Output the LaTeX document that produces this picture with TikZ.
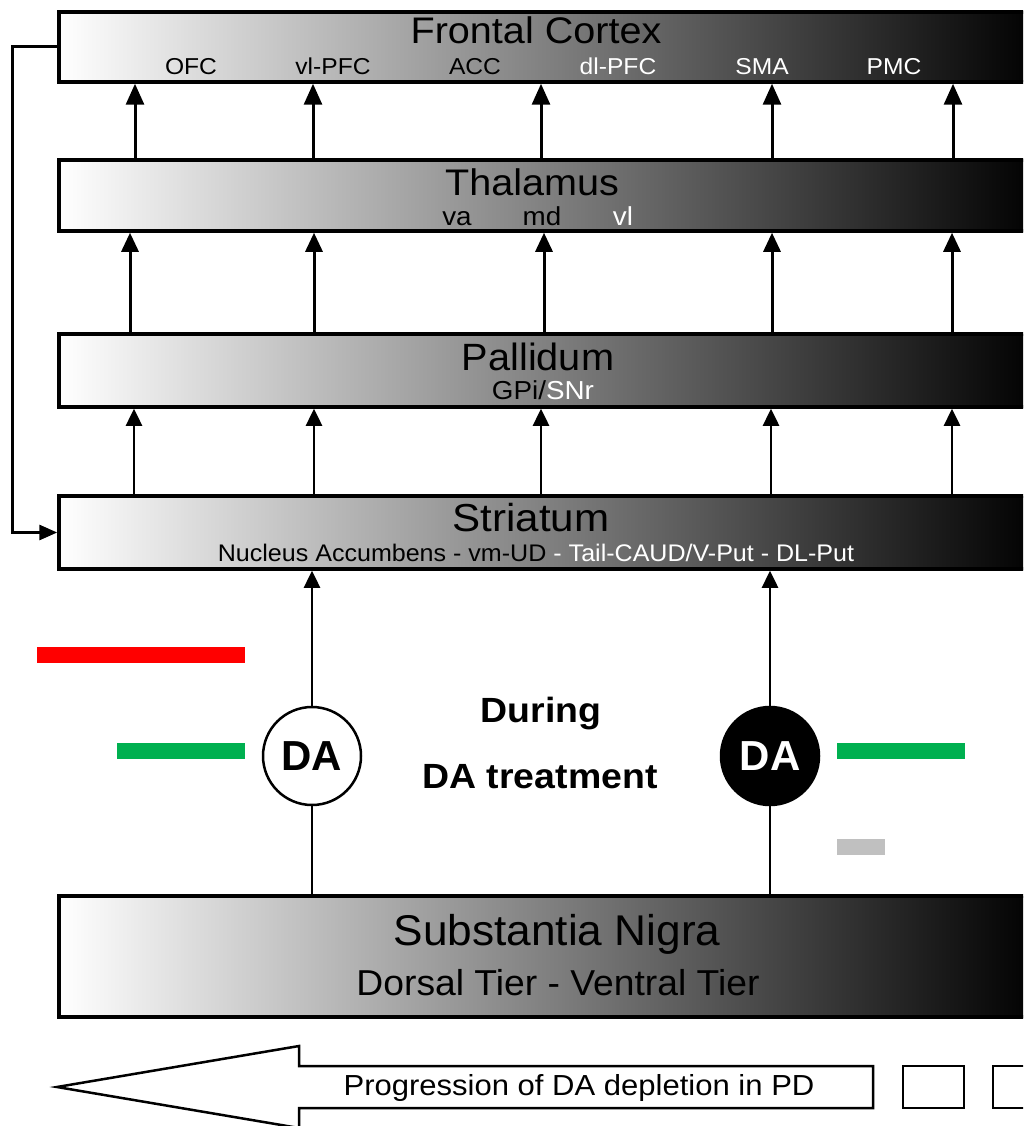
\documentclass[tikz,border=0pt]{standalone}
\usepackage{fontspec}
\setmainfont{Liberation Sans}
\usetikzlibrary{arrows.meta}
\definecolor{myred}{HTML}{FF0000}
\definecolor{mygreen}{HTML}{00B050}
\definecolor{mygray}{HTML}{C0C0C0}
\newcommand\fsz[1]{\fontsize{#1}{#1}\selectfont}
\newcommand\wide[2][1.07]{\scalebox{#1}[1]{#2}}
\begin{document}
\begin{tikzpicture}[x=1pt,y=-1pt,
  region/.style={draw=black, line width=3.5pt, left color=white, right color=black,
    minimum width=981pt, inner sep=0pt, outer sep=auto},
  title/.style={anchor=base, inner sep=0pt, font={\fsz{37}}},
  sub/.style={anchor=base, inner sep=0pt, font={\fsz{23}}},
  bigarr/.style={line width=3pt, -{Triangle[width=18pt,length=21pt]}},
  midarr/.style={line width=3pt, -{Triangle[width=17pt,length=19pt]}},
  smallarr/.style={line width=2.5pt, -{Triangle[width=16pt,length=17pt]}},
  plain/.style={line width=2.5pt},
  danode/.style={circle, draw=black, line width=2.5pt, minimum size=98pt, inner sep=0pt,
    font={\fsz{42}\bfseries}},
  outline/.style={draw=black, line width=2.5pt, line join=miter}
]
\useasboundingbox (0,0) rectangle (1023,1126);
\clip (0,0) rectangle (1023,1126);

% region boxes
\node[region, minimum height=70pt] (fc) at (549.5,47) {};
\node[region, minimum height=71pt] (th) at (549.5,195.5) {};
\node[region, minimum height=73pt] (pa) at (549.5,370.5) {};
\node[region, minimum height=73pt] (st) at (549.5,532.5) {};
\node[region, minimum height=121pt] (sn) at (549.5,956.5) {};

% labels
\node[title] (fct) at (536,44) {\wide{Frontal Cortex}};
\node[sub] (ofc) at (191,75) {\wide{OFC}};
\node[sub] (vlpfc) at (333,75) {\wide{vl-PFC}};
\node[sub] (acc) at (475,75) {\wide{ACC}};
\node[sub, text=white] (dlpfc) at (618,75) {\wide{dl-PFC}};
\node[sub, text=white] (sma) at (762,75) {\wide{SMA}};
\node[sub, text=white] (pmc) at (894,75) {\wide{PMC}};

\node[title] (tht) at (532,195) {\wide{Thalamus}};
\node[sub, font={\fsz{26}}] (va) at (457,225) {\wide{va}};
\node[sub, font={\fsz{26}}] (md) at (542,225) {\wide{md}};
\node[sub, font={\fsz{26}}, text=white] (vl) at (623,225) {\wide{vl}};

\node[title, font={\fsz{38}}] (pat) at (538,370) {\wide[1.045]{Pallidum}};
\node[sub, font={\fsz{26}}] (gpi) at (543,399) {\wide{GPi/\textcolor{white}{SNr}}};

\node[title, font={\fsz{39}}] (stt) at (531,531) {\wide[1.08]{Striatum}};
\node[sub, font={\fsz{24}}] (sts) at (536,561) {\wide[1.044]{Nucleus Accumbens - vm-UD \textcolor{white}{- Tail-CAUD/V-Put - DL-Put}}};

\node[title, font={\fsz{43}}] (snt) at (557,945) {\wide[1.028]{Substantia Nigra}};
\node[sub, font={\fsz{36}}] (sns) at (558,995) {\wide[1.035]{Dorsal Tier - Ventral Tier}};

% column coordinates
\foreach \n/\x in {a/135,b/313,c/541,d/772,e/953} \coordinate (r1\n) at (\x,0);
\foreach \n/\x in {a/130,b/314,c/544,d/772,e/952} \coordinate (r2\n) at (\x,0);
\foreach \n/\x in {a/134,b/314,c/541,d/771,e/952} \coordinate (r3\n) at (\x,0);

\foreach \n in {a,b,c,d,e} {
  \draw[bigarr] (th.north -| r1\n) -- (fc.south -| r1\n);
  \draw[midarr] (pa.north -| r2\n) -- (th.south -| r2\n);
  \draw[smallarr] (st.north -| r3\n) -- (pa.south -| r3\n);
}

% feedback loop
\coordinate (fb) at (12,0);
\draw[line width=3pt, -{Triangle[width=15pt,length=18pt]}] (fc.west) -- (fc.west -| fb) |- (st.west);

% DA neurons
\node[danode, fill=white] (da1) at (312,756) {DA};
\node[danode, fill=black, text=white] (da2) at (770,756) {DA};
\draw[plain] (sn.north -| da1) -- (da1.south);
\draw[plain] (sn.north -| da2) -- (da2.south);
\draw[smallarr] (da1.north) -- (st.south -| da1);
\draw[smallarr] (da2.north) -- (st.south -| da2);

\node[anchor=base, inner sep=0pt, font={\fsz{35}\bfseries}] (dur) at (541,722) {\wide{During}};
\node[anchor=base, inner sep=0pt, font={\fsz{35}\bfseries}] (dat) at (540,788) {\wide{DA treatment}};

% coloured bars
\fill[myred] (37,647) rectangle (245,663);
\fill[mygreen] (117,743) rectangle (245,759);
\fill[mygreen] (837,743) rectangle (965,759);
\fill[mygray] (837,839) rectangle (885,855);

% progression arrow
\draw[outline] (57,1087) -- (299,1046) -- (299,1066) -- (873,1066) -- (873,1108)
  -- (299,1108) -- (299,1128) -- cycle;
\node[anchor=base, inner sep=0pt, font={\fsz{29}}] (prog) at (579,1095) {\wide{Progression of DA depletion in PD}};
\draw[outline] (903,1066) rectangle (964,1108);
\draw[outline] (993,1066) rectangle (1060,1108);
\end{tikzpicture}
\end{document}
